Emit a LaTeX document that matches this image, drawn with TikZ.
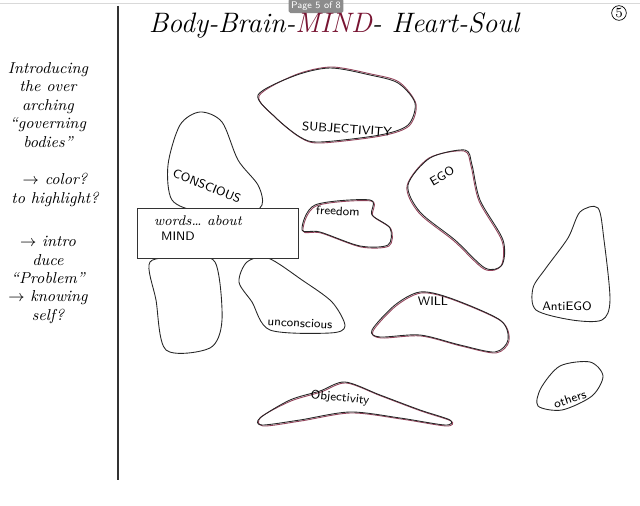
\documentclass[tikz,border=0pt]{standalone}
\usepackage{tikz}
\definecolor{maroon}{RGB}{120,20,50}
\tikzset{
  ink/.style={draw=black!85, line width=0.5pt},
  redink/.style={draw=maroon!80, line width=0.5pt},
  lbl/.style={font=\sffamily\fontsize{7}{8}\selectfont, inner sep=1pt},
  note/.style={font=\itshape\fontsize{9}{10.5}\selectfont, align=center, inner sep=1pt}
}
\begin{document}
\begin{tikzpicture}[x=0.02cm, y=-0.02cm]
    \useasboundingbox (0,0) rectangle (640,506);
    \draw[black!15](0,3)--(640,3);
    \node[fill=black!45, text=white, rounded corners=1pt, font=\sffamily\fontsize{5.5}{6}\selectfont, inner sep=1.5pt](page)at(316,6){Page 5 of 8};
    \draw[black!80, line width=0.6pt](118,6)--(118,480);

    \node[font=\itshape\fontsize{16}{18}\selectfont](title)at(334,25){Body-Brain-\textcolor{maroon}{MIND}- Heart-Soul};
    \node[draw, circle, inner sep=0.5pt, font=\fontsize{8}{9}\selectfont](num)at(619,13){5};

    \node[note](intro)at(48,105){Introducing\\the over\\arching\\``governing\\bodies''};
    \node[note](color)at(55,190){$\to$ color?\\to highlight?};
    \node[note](problem)at(48,280){$\to$ intro\\duce\\``Problem''\\$\to$ knowing\\self?};

    \draw[redink]plot[smooth cycle]coordinates{(259,96)(295,75)(331,67)(371,74)(399,82)(416,104)(409,126)(381,136)(321,143)(301,138)(276,118)};
    \draw[ink]plot[smooth cycle]coordinates{(258,95)(294,76)(330,68)(370,75)(398,83)(415,103)(408,125)(380,135)(320,142)(300,137)(275,117)};
    \node[lbl, rotate=-4](subj)at(347,129){SUBJECTIVITY};

    \draw[ink]plot[smooth cycle]coordinates{(200,112)(222,122)(238,160)(258,185)(262,205)(245,215)(200,212)(172,200)(168,165)(180,125)};
    \node[lbl, rotate=-22](consc)at(207,186){CONSCIOUS};

    \draw[ink]plot[smooth cycle]coordinates{(150,262)(185,258)(215,262)(222,320)(210,348)(166,350)(156,300)};
    \draw[ink]plot[smooth cycle]coordinates{(247,262)(268,258)(302,280)(332,302)(345,326)(330,333)(270,330)(252,302)(239,282)};
    \node[lbl, rotate=-3](uncon)at(300,323){unconscious};

    \node[draw=black!80, fill=white, minimum width=161*0.02cm, minimum height=50*0.02cm, inner sep=0pt](box)at(217.5,233){};
    \node[font=\itshape\fontsize{8}{9}\selectfont, anchor=west](words)at(148,221){words\dots\ about};
    \node[font=\sffamily\fontsize{7}{8}\selectfont, anchor=west](mind)at(155,236){MIND};

    \draw[redink]plot[smooth cycle]coordinates{(303,231)(316,206)(371,201)(373,216)(391,229)(389,246)(361,247)(321,233)};
    \draw[ink]plot[smooth cycle]coordinates{(302,230)(315,205)(370,200)(372,215)(390,228)(388,245)(360,246)(320,232)};
    \node[lbl, rotate=-3](free)at(338,211){freedom};

    \draw[redink]plot[smooth cycle]coordinates{(407,186)(429,158)(464,151)(471,166)(479,201)(502,241)(501,266)(484,269)(454,241)(419,213)};
    \draw[ink]plot[smooth cycle]coordinates{(408,185)(430,158)(465,150)(472,165)(480,200)(503,240)(502,265)(485,268)(455,240)(420,212)};
    \node[lbl, rotate=30](ego)at(442,176){EGO};

    \draw[redink]plot[smooth cycle]coordinates{(373,331)(396,306)(421,293)(451,299)(501,321)(509,341)(496,353)(461,346)(421,336)(381,338)};
    \draw[ink]plot[smooth cycle]coordinates{(372,330)(395,305)(420,292)(450,298)(500,320)(508,340)(495,352)(460,345)(420,335)(380,337)};
    \node[lbl](will)at(433,301){WILL};

    \draw[ink]plot[smooth cycle]coordinates{(546,268)(568,238)(580,212)(598,208)(604,240)(610,300)(602,320)(572,320)(536,310)(533,288)};
    \node[lbl](anti)at(567,306){AntiEGO};

    \draw[ink]plot[smooth cycle]coordinates{(541,388)(560,366)(590,362)(603,376)(592,396)(562,410)(538,406)};
    \node[lbl, rotate=18](others)at(570,399){others};

    \draw[redink]plot[smooth cycle]coordinates{(261,417)(291,401)(321,392)(346,383)(381,396)(421,411)(451,421)(446,426)(401,419)(351,413)(301,421)(263,426)};
    \draw[ink]plot[smooth cycle]coordinates{(260,418)(290,400)(320,391)(345,382)(380,395)(420,410)(450,420)(445,425)(400,418)(350,412)(300,420)(262,425)};
    \node[lbl, rotate=-6](obj)at(340,398){Objectivity};
\end{tikzpicture}
\end{document}
